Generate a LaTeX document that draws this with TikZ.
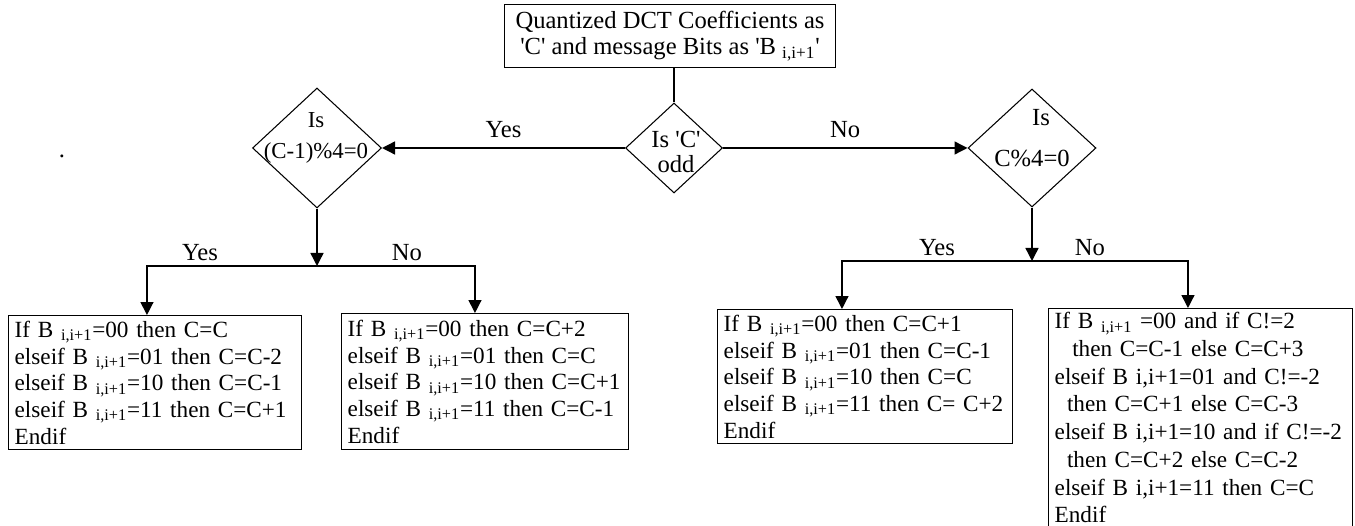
\documentclass[tikz,border=0pt]{standalone}
\usepackage{fontspec}
\setmainfont{Liberation Serif}
\usetikzlibrary{shapes.geometric,arrows.meta}
\newcommand{\sq}{\textquotesingle}
\newcommand{\bsub}{B \textsubscript{i,i+1}}
\tikzset{txt/.style={font=\fontsize{14}{15.2}\selectfont, inner sep=0pt}}
\tikzset{stepbox/.style={rectangle, draw, line width=0.8pt, anchor=north west, align=left, inner xsep=0.12cm, inner ysep=2pt, font=\fontsize{13.2}{15.2}\selectfont}}
\tikzset{titlebox/.style={rectangle, draw, line width=0.8pt, align=center, minimum width=6.62cm, minimum height=1.26cm, inner sep=1pt, font=\fontsize{14}{15.2}\selectfont}}
\tikzset{decision/.style={diamond, draw, line width=0.6pt, inner sep=0pt}}
\tikzset{flow/.style={-{Triangle[length=0.26cm,width=0.26cm]}, line width=0.8pt}}
\tikzset{link/.style={line width=0.8pt}}

\begin{document}
\begin{tikzpicture}[x=0.02cm,y=-0.02cm]
    \useasboundingbox (0,0) rectangle (1355,526);

    \node[titlebox] (coeff) at (670,36) {Quantized DCT Coefficients as\\\sq C\sq{} and message Bits as \sq\bsub\sq};

    \node[decision, minimum width=1.94cm, minimum height=1.8cm] (odd) at (674,148) {};
    \node[txt, align=center] (oddtext) at (676,152) {Is \sq C\sq\\[-1pt]odd};

    \node[decision, minimum width=2.58cm, minimum height=2.4cm] (decL) at (317,148) {};
    \node[txt, align=center, font=\fontsize{13}{15.2}\selectfont] (decLtext) at (316,138) {Is\\[2pt](C-1)\%4=0};

    \node[decision, minimum width=2.56cm, minimum height=2.36cm] (decR) at (1032,148) {};
    \node[txt] (decRtop) at (1041,118) {Is};
    \node[txt] (decRbot) at (1032,158) {C\%4=0};

    \node[txt] (stray) at (62,156) {.};

    \node[stepbox, text width=5.62cm, minimum height=2.68cm] (caseA) at (8,315) {
        If \bsub=00 then C=C\\
        elseif \bsub=01 then C=C-2\\
        elseif \bsub=10 then C=C-1\\
        elseif \bsub=11 then C=C+1\\
        Endif};

    \node[stepbox, text width=5.5cm, minimum height=2.72cm] (caseB) at (341,313) {
        If \bsub=00 then C=C+2\\
        elseif \bsub=01 then C=C\\
        elseif \bsub=10 then C=C+1\\
        elseif \bsub=11 then C=C-1\\
        Endif};

    \node[stepbox, text width=5.66cm, minimum height=2.68cm] (caseC) at (717,309) {
        If \bsub=00 then C=C+1\\
        elseif \bsub=01 then C=C-1\\
        elseif \bsub=10 then C=C\\
        elseif \bsub=11 then C= C+2\\
        Endif};

    \node[stepbox, text width=5.84cm, font=\fontsize{13.2}{15.8}\selectfont] (caseD) at (1048,308) {
        If \bsub{} =00 and if C!=2\\
        \hspace*{10pt}then C=C-1 else C=C+3\\
        elseif B i,i+1=01 and C!=-2\\
        \hspace*{7pt}then C=C+1 else C=C-3\\
        elseif B i,i+1=10 and if C!=-2\\
        \hspace*{7pt}then C=C+2 else C=C-2\\
        elseif B i,i+1=11 then C=C\\
        Endif\\[12pt]};

    \coordinate (jl) at (317,266);
    \coordinate (jr) at (1032,261);

    \draw[link] (coeff.south -| odd.north) -- (odd.north);
    \draw[flow] (odd.west) -- node[txt, above=0.2cm] (yesA) {Yes} (decL.east);
    \draw[flow] (odd.east) -- node[txt, above=0.2cm] (noA) {No} (decR.west);

    \draw[flow] (decL.south) -- (jl);
    \draw[flow] (jl) -| ([xshift=2.78cm]caseA.north west);
    \draw[flow] (jl) -| ([xshift=2.68cm]caseB.north west);
    \node[txt] (yesL) at (200,253) {Yes};
    \node[txt] (noL) at (407,253) {No};

    \draw[flow] (decR.south) -- (jr);
    \draw[flow] (jr) -| ([xshift=2.5cm]caseC.north west);
    \draw[flow] (jr) -| ([xshift=2.8cm]caseD.north west);
    \node[txt] (yesR) at (937,248) {Yes};
    \node[txt] (noR) at (1090,248) {No};
\end{tikzpicture}
\end{document}
